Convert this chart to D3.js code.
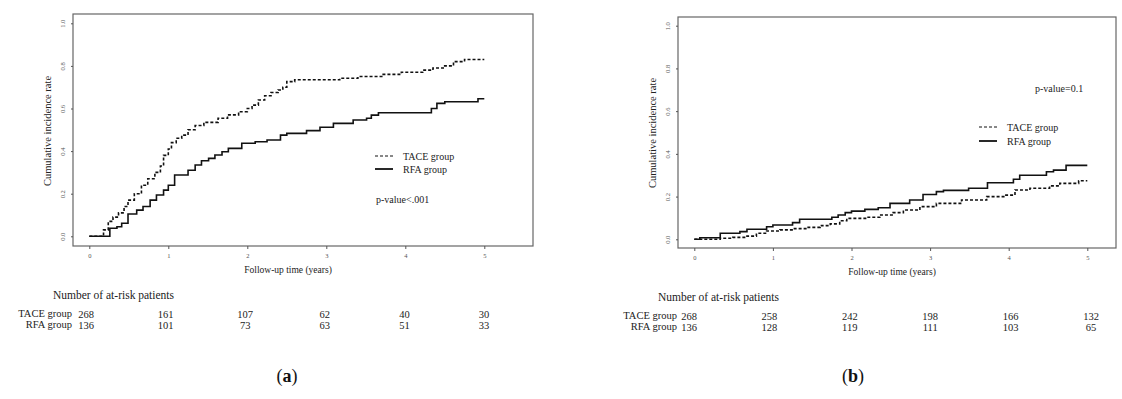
<!DOCTYPE html>
<html>
<head>
<meta charset="utf-8">
<script src="https://cdn.jsdelivr.net/npm/d3@7"></script>
<style>
  body { margin: 0; background: #fff; }
  svg { display: block; font-family: "Liberation Serif", "DejaVu Serif", serif; }
</style>
</head>
<body>
<div id="container"></div>
<script>
// ticks
const timeTicks = [0, 1, 2, 3, 4, 5];
const rateTicks = [0, 0.2, 0.4, 0.6, 0.8, 1.0];

// panel (a) step curves: time (years) / cumulative incidence
const aTaceTime = [0, 0.18, 0.24, 0.30, 0.37, 0.44, 0.49, 0.57, 0.66, 0.74, 0.83, 0.90, 0.94, 1.00, 1.04, 1.10, 1.17, 1.25, 1.34, 1.45, 1.63, 1.75, 1.89, 2.00, 2.06, 2.14, 2.22, 2.30, 2.39, 2.45, 2.50, 2.60, 3.17, 3.40, 3.72, 3.95, 4.22, 4.35, 4.48, 4.61, 4.75, 5.0];
const aTaceRate = [0, 0.03, 0.07, 0.09, 0.11, 0.14, 0.17, 0.20, 0.24, 0.27, 0.30, 0.33, 0.38, 0.41, 0.44, 0.46, 0.475, 0.50, 0.52, 0.535, 0.554, 0.57, 0.585, 0.60, 0.616, 0.64, 0.66, 0.675, 0.687, 0.70, 0.726, 0.735, 0.742, 0.75, 0.76, 0.77, 0.78, 0.79, 0.80, 0.82, 0.83, 0.83];
const aRfaTime = [0, 0.26, 0.35, 0.41, 0.49, 0.60, 0.68, 0.77, 0.85, 0.94, 1.00, 1.08, 1.25, 1.34, 1.42, 1.51, 1.59, 1.68, 1.76, 1.93, 2.10, 2.25, 2.42, 2.50, 2.75, 2.92, 3.09, 3.34, 3.51, 3.57, 3.66, 4.33, 4.40, 4.50, 4.92, 5.0];
const aRfaRate = [0, 0.038, 0.045, 0.061, 0.105, 0.123, 0.14, 0.17, 0.194, 0.217, 0.24, 0.288, 0.31, 0.335, 0.355, 0.366, 0.382, 0.397, 0.413, 0.437, 0.444, 0.452, 0.475, 0.483, 0.496, 0.512, 0.53, 0.546, 0.554, 0.569, 0.58, 0.60, 0.624, 0.632, 0.646, 0.646];

// panel (b)
const bTaceTime = [0, 0.33, 0.49, 0.67, 0.79, 0.92, 1.09, 1.26, 1.43, 1.60, 1.73, 1.85, 1.94, 2.19, 2.36, 2.53, 2.66, 2.87, 3.08, 3.40, 3.72, 3.95, 4.08, 4.27, 4.52, 4.65, 4.89, 5.0];
const bTaceRate = [0, 0.005, 0.009, 0.015, 0.028, 0.039, 0.044, 0.05, 0.056, 0.064, 0.072, 0.087, 0.098, 0.103, 0.114, 0.125, 0.137, 0.153, 0.168, 0.184, 0.20, 0.207, 0.231, 0.239, 0.25, 0.262, 0.274, 0.274];
const bRfaTime = [0, 0.07, 0.33, 0.58, 0.67, 0.92, 1.00, 1.25, 1.34, 1.75, 1.83, 1.92, 2.00, 2.17, 2.34, 2.49, 2.74, 2.91, 3.08, 3.17, 3.49, 3.73, 4.06, 4.14, 4.48, 4.57, 4.73, 5.0];
const bRfaRate = [0, 0.0075, 0.028, 0.036, 0.047, 0.059, 0.067, 0.078, 0.094, 0.103, 0.114, 0.125, 0.132, 0.14, 0.148, 0.168, 0.184, 0.21, 0.223, 0.229, 0.239, 0.265, 0.281, 0.30, 0.316, 0.324, 0.346, 0.346];

// number at risk
const groups = ["TACE group", "RFA group"];
const aTaceRisk = [268, 161, 107, 62, 40, 30];
const aRfaRisk = [136, 101, 73, 63, 51, 33];
const bTaceRisk = [268, 258, 242, 198, 166, 132];
const bRfaRisk = [136, 128, 119, 111, 103, 65];

const width = 1122;
const height = 399;

const svg = d3.create("svg")
  .attr("width", width)
  .attr("height", height);

const zip = (t, v) => t.map((d, i) => [d, v[i]]);

const drawPanel = (p) => {
  const x = d3.scaleLinear().domain([0, 5]).range(p.xRange);
  const y = d3.scaleLinear().domain([0, 1]).range(p.yRange);
  const g = svg.append("g");

  // plot box
  g.append("rect")
    .attr("x", p.box[0])
    .attr("y", p.box[1])
    .attr("width", p.box[2] - p.box[0])
    .attr("height", p.box[3] - p.box[1])
    .attr("fill", "none")
    .attr("stroke", "#666")
    .attr("stroke-width", 1.2);

  // x axis on the bottom edge of the box
  const xAxis = g.append("g")
    .attr("transform", `translate(0,${p.box[3]})`)
    .call(d3.axisBottom(x).tickValues(timeTicks).tickSize(3).tickPadding(4).tickFormat(d3.format("d")));
  xAxis.select(".domain").remove();

  // y axis on the left edge
  const yAxis = g.append("g")
    .attr("transform", `translate(${p.box[0]},0)`)
    .call(d3.axisLeft(y).tickValues(rateTicks).tickSize(2).tickFormat(d3.format(".1f")));
  yAxis.select(".domain").remove();
  yAxis.selectAll(".tick text")
    .attr("x", null).attr("dy", null)
    .attr("text-anchor", "middle")
    .attr("transform", "translate(-8,0) rotate(-90)");

  g.selectAll(".tick line").attr("stroke", "#555");
  g.selectAll(".tick text")
    .attr("fill", "#555")
    .attr("font-size", 6.5)
    .attr("font-family", "Liberation Serif, serif");

  // axis titles
  g.append("text")
    .attr("x", p.xTitle[0])
    .attr("y", p.xTitle[1])
    .attr("text-anchor", "middle")
    .attr("font-size", 9.5)
    .attr("fill", "#222")
    .text("Follow-up time (years)");

  g.append("text")
    .attr("transform", `translate(${p.yTitle[0]},${p.yTitle[1]}) rotate(-90)`)
    .attr("text-anchor", "middle")
    .attr("font-size", 10.5)
    .attr("fill", "#222")
    .text("Cumulative incidence rate");

  // step curves
  const line = d3.line()
    .x(d => x(d[0]))
    .y(d => y(d[1]))
    .curve(d3.curveStepAfter);

  g.append("path")
    .datum(zip(p.taceTime, p.taceRate))
    .attr("fill", "none")
    .attr("stroke", "#111")
    .attr("stroke-width", 1.6)
    .attr("stroke-dasharray", "3,2")
    .attr("d", line);

  g.append("path")
    .datum(zip(p.rfaTime, p.rfaRate))
    .attr("fill", "none")
    .attr("stroke", "#111")
    .attr("stroke-width", 1.6)
    .attr("d", line);

  // legend
  const lg = g.append("g").attr("transform", `translate(${p.legend[0]},${p.legend[1]})`);
  groups.forEach((name, i) => {
    lg.append("line")
      .attr("x1", 0).attr("x2", 18)
      .attr("y1", i * p.legendGap).attr("y2", i * p.legendGap)
      .attr("stroke", "#111")
      .attr("stroke-width", i === 0 ? 1 : 1.8)
      .attr("stroke-dasharray", i === 0 ? "3,2" : null);
    lg.append("text")
      .attr("x", 28)
      .attr("y", i * p.legendGap + 3.5)
      .attr("font-size", 10)
      .attr("fill", "#222")
      .text(name);
  });

  g.append("text")
    .attr("x", p.pval[0])
    .attr("y", p.pval[1])
    .attr("font-size", 10)
    .attr("fill", "#222")
    .text(p.pText);

  // number at risk table
  const tx = d3.scaleLinear().domain([0, 5]).range(p.tableRange);
  g.append("text")
    .attr("x", p.tableHead[0])
    .attr("y", p.tableHead[1])
    .attr("font-size", 11.5)
    .attr("fill", "#222")
    .text("Number of at-risk patients");

  [p.taceRisk, p.rfaRisk].forEach((row, i) => {
    const ry = p.tableRows[i];
    g.append("text")
      .attr("x", p.tableLabelX)
      .attr("y", ry)
      .attr("text-anchor", "end")
      .attr("font-size", 10.5)
      .attr("fill", "#222")
      .text(groups[i]);
    g.append("g")
      .selectAll("text")
      .data(row)
      .join("text")
      .attr("x", (d, j) => tx(timeTicks[j]))
      .attr("y", ry + 1)
      .attr("text-anchor", "middle")
      .attr("font-size", 10.5)
      .attr("fill", "#222")
      .text(d => d);
  });

  g.append("text")
    .attr("x", p.tag[0])
    .attr("y", p.tag[1])
    .attr("text-anchor", "middle")
    .attr("font-size", 18)
    .attr("fill", "#111")
    .html(`(<tspan font-weight="bold">${p.tagText}</tspan>)`);
};

drawPanel({
  box: [73, 14, 533, 246],
  xRange: [89.3, 484.3],
  yRange: [236.3, 23.3],
  xTitle: [288, 273],
  yTitle: [51, 131],
  taceTime: aTaceTime, taceRate: aTaceRate,
  rfaTime: aRfaTime, rfaRate: aRfaRate,
  legend: [375, 156], legendGap: 13,
  pval: [376, 203], pText: "p-value<.001",
  taceRisk: aTaceRisk, rfaRisk: aRfaRisk,
  tableRange: [86, 484],
  tableHead: [53, 299],
  tableRows: [317, 328],
  tableLabelX: 72,
  tag: [287, 382], tagText: "a"
});

drawPanel({
  box: [678, 17, 1116, 248],
  xRange: [694.3, 1087.3],
  yRange: [239.3, 25.7],
  xTitle: [892, 275],
  yTitle: [656, 133],
  taceTime: bTaceTime, taceRate: bTaceRate,
  rfaTime: bRfaTime, rfaRate: bRfaRate,
  legend: [979, 127], legendGap: 14,
  pval: [1035, 92], pText: "p-value=0.1",
  taceRisk: bTaceRisk, rfaRisk: bRfaRisk,
  tableRange: [689, 1091],
  tableHead: [658, 301],
  tableRows: [319, 330],
  tableLabelX: 677,
  tag: [853, 382], tagText: "b"
});

d3.select("#container").append(() => svg.node());
</script>
</body>
</html>
